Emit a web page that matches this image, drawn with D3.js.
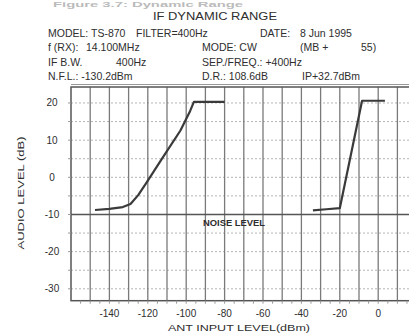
<!DOCTYPE html>
<html><head><meta charset="utf-8">
<script src="https://cdn.jsdelivr.net/npm/d3@7"></script>
<style>
html,body{margin:0;padding:0;background:#fff;}
svg{display:block;}
text{font-family:"Liberation Sans",Arial,sans-serif;fill:#2e2e2e;}
</style></head>
<body>
<script>
// ---- data ----
const xTicks = [-140, -120, -100, -80, -60, -40, -20, 0];
const yTicks = [20, 10, 0, -10, -20, -30];
const curveA_x = [-147.5, -140, -133, -129, -125, -121, -112, -103, -98, -96, -80];
const curveA_y = [-8.8, -8.5, -8.0, -7.2, -4.8, -1.7, 5.5, 12.6, 17.8, 20.3, 20.3];
const curveB_x = [-34, -27, -20, -8.4, 3.5];
const curveB_y = [-8.9, -8.6, -8.3, 20.6, 20.6];
const noiseLevel = -10;
const caption = "Figure 3.7: Dynamic Range";
const headerTitle = "IF DYNAMIC RANGE";
// [text, x] per header row
const headerRows = [
  [["MODEL: TS-870", 48], ["FILTER=400Hz", 136], ["DATE:", 260], ["8  Jun 1995", 300]],
  [["f (RX):", 48], ["14.100MHz", 86], ["MODE: CW", 202], ["(MB +", 300], ["55)", 361]],
  [["IF B.W.", 48], ["400Hz", 116], ["SEP./FREQ.: +400Hz", 202]],
  [["N.F.L.: -130.2dBm", 48], ["D.R.: 108.6dB", 202], ["IP+32.7dBm", 302]]
];

const W = 409, H = 334;
const svg = d3.select("body").append("svg").attr("width", W).attr("height", H);

const x = d3.scaleLinear().domain([-160, 20]).range([71, 416.6]);
const y = d3.scaleLinear().domain([-33.2, 24.3]).range([300.7, 87]);

// faint figure caption at very top
svg.append("text").attr("x", 53).attr("y", 7).attr("font-size", 8).attr("font-weight", "bold")
  .style("fill", "#bbb").attr("textLength", 190).attr("lengthAdjust", "spacingAndGlyphs").text(caption);

// header
svg.append("text").attr("x", 153).attr("y", 20).attr("font-size", 10)
  .attr("textLength", 124).attr("lengthAdjust", "spacingAndGlyphs").text(headerTitle);
const rowY = [37, 51, 66, 80];
headerRows.forEach((r, i) => {
  r.forEach(([t, cx]) => {
    svg.append("text").attr("x", cx).attr("y", rowY[i]).attr("font-size", 10.5).text(t);
  });
});

const g = svg.append("g");
const [x0, x1] = x.range();
const [y0, y1] = [y(y.domain()[1]), y(y.domain()[0])];

// horizontal gridlines (every 5)
const hLines = d3.range(-30, 25, 5);
g.selectAll("line.h").data(hLines).join("line")
  .attr("x1", x0).attr("x2", x1).attr("y1", d => y(d)).attr("y2", d => y(d))
  .attr("stroke", "#b5b5b5").attr("stroke-width", 1).attr("stroke-dasharray", "2,2");

// vertical gridlines (every 10)
const vLines = d3.range(-150, 20, 10);
g.selectAll("line.v").data(vLines).join("line")
  .attr("x1", d => x(d)).attr("x2", d => x(d)).attr("y1", y0).attr("y2", y1)
  .attr("stroke", "#7a7a7a").attr("stroke-width", 1.3);

// noise level line
g.append("line").attr("x1", x0).attr("x2", x1).attr("y1", y(noiseLevel)).attr("y2", y(noiseLevel))
  .attr("stroke", "#555").attr("stroke-width", 1.6);
svg.append("text").attr("x", 203).attr("y", 226).attr("font-size", 9.5).attr("font-weight", "bold")
  .attr("textLength", 62).attr("lengthAdjust", "spacingAndGlyphs").text("NOISE LEVEL");

// frame
g.append("rect").attr("x", x0).attr("y", y0).attr("width", x1 - x0).attr("height", y1 - y0)
  .attr("fill", "none").attr("stroke", "#555").attr("stroke-width", 1.5);
g.append("line").attr("x1", x0).attr("x2", x1).attr("y1", y0 - 2.5).attr("y2", y0 - 2.5)
  .attr("stroke", "#999").attr("stroke-width", 1);

// small outside ticks
g.selectAll("line.tx").data(d3.range(-155, 20, 5)).join("line")
  .attr("x1", d => x(d)).attr("x2", d => x(d)).attr("y1", y1).attr("y2", y1 + 3)
  .attr("stroke", "#999");
g.selectAll("line.ty").data(d3.range(-30, 25, 5)).join("line")
  .attr("x1", x0 - 3).attr("x2", x0).attr("y1", d => y(d)).attr("y2", d => y(d))
  .attr("stroke", "#999");

// curves
const line = d3.line().x(d => x(d[0])).y(d => y(d[1]));
g.append("path").datum(curveA_x.map((v, i) => [v, curveA_y[i]])).attr("d", line)
  .attr("fill", "none").attr("stroke", "#3a3a3a").attr("stroke-width", 2.2).attr("stroke-linejoin", "round");
g.append("path").datum(curveB_x.map((v, i) => [v, curveB_y[i]])).attr("d", line)
  .attr("fill", "none").attr("stroke", "#3a3a3a").attr("stroke-width", 2.2).attr("stroke-linejoin", "round");

// tick labels
svg.selectAll("text.xt").data(xTicks).join("text")
  .attr("x", d => x(d)).attr("y", 317).attr("text-anchor", "middle").attr("font-size", 10).text(d => d);
svg.selectAll("text.yt").data(yTicks).join("text")
  .attr("x", 52).attr("y", d => y(d) + 3.5).attr("text-anchor", "middle").attr("font-size", 10).text(d => d);

// axis titles
svg.append("text").attr("transform", "translate(24,193) rotate(-90)").attr("text-anchor", "middle")
  .attr("font-size", 9.5).attr("textLength", 113).attr("lengthAdjust", "spacingAndGlyphs").text("AUDIO LEVEL (dB)");
svg.append("text").attr("x", 168).attr("y", 331).attr("font-size", 9.5)
  .attr("textLength", 142).attr("lengthAdjust", "spacingAndGlyphs").text("ANT INPUT LEVEL(dBm)");
</script>
</body></html>
